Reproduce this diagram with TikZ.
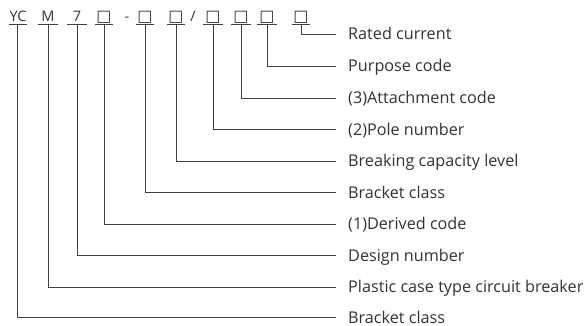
\documentclass[tikz,border=0pt]{standalone}
\usepackage{fontspec}
\setmainfont{Open Sans}
\newfontfamily\symf{DejaVu Sans}
\definecolor{ink}{HTML}{333333}
\definecolor{wire}{HTML}{404040}
\begin{document}
\begin{tikzpicture}[x=1pt,y=-1pt,
  code/.style={anchor=south,inner xsep=0pt,inner ysep=2.5pt,minimum width=17pt,
    text height=10pt,text depth=0pt,text=ink,font=\fontsize{14.5}{14.5}\selectfont},
  sep/.style={anchor=base,inner sep=0pt,text=ink,font=\fontsize{14.5}{14.5}\selectfont},
  lab/.style={anchor=west,inner sep=0pt,text height=11.5pt,text depth=0pt,text=ink,
    font=\fontsize{16.2}{16.2}\selectfont},
  wirestyle/.style={draw=wire,line width=0.9pt},
  conn/.style={wirestyle,shorten >=12pt}]
\useasboundingbox (0,0) rectangle (588,326);
\newcommand{\bx}{{\symf\fontsize{16}{16}\selectfont □}}
% code characters
\node[code,minimum width=17pt] (c1) at (18,24) {YC};
\node[code,minimum width=20pt] (c2) at (48,24) {M};
\node[code,minimum width=20pt] (c3) at (77,24) {7};
\node[code] (c4) at (104,24) {\bx};
\node[sep] (d1) at (127,21.5) {-};
\node[code] (c5) at (145,24) {\bx};
\node[code] (c6) at (176,24) {\bx};
\node[sep] (d2) at (193,21.5) {/};
\node[code,minimum width=19pt] (c7) at (213,24) {\bx};
\node[code,minimum width=19pt] (c8) at (241,24) {\bx};
\node[code,minimum width=19pt] (c9) at (267,24) {\bx};
\node[code,minimum width=18pt] (c10) at (301,24) {\bx};
\foreach \c in {c1,c2,c3,c4,c5,c6,c7,c8,c9,c10}
  \draw[wirestyle] (\c.south west) -- (\c.south east);
% labels
\node[lab] (l1) at (348,34) {Rated current};
\node[lab] (l2) at (348,66) {Purpose code};
\node[lab] (l3) at (348,98) {(3)Attachment code};
\node[lab] (l4) at (348,129.5) {(2)Pole number};
\node[lab] (l5) at (348,161) {Breaking capacity level};
\node[lab] (l6) at (348,192.5) {Bracket class};
\node[lab] (l7) at (348,224) {(1)Derived code};
\node[lab] (l8) at (348,255.5) {Design number};
\node[lab] (l9) at (348,287) {Plastic case type circuit breaker};
\node[lab] (l10) at (348,317.5) {Bracket class};
% connectors
\draw[conn] (c10.south) |- (l1.west);
\draw[conn] (c9.south) |- (l2.west);
\draw[conn] (c8.south) |- (l3.west);
\draw[conn] (c7.south) |- (l4.west);
\draw[conn] (c6.south) |- (l5.west);
\draw[conn] (c5.south) |- (l6.west);
\draw[conn] (c4.south) |- (l7.west);
\draw[conn] (c3.south) |- (l8.west);
\draw[conn] (c2.south) |- (l9.west);
\draw[conn] ([xshift=-1pt]c1.south) |- (l10.west);
\end{tikzpicture}
\end{document}
